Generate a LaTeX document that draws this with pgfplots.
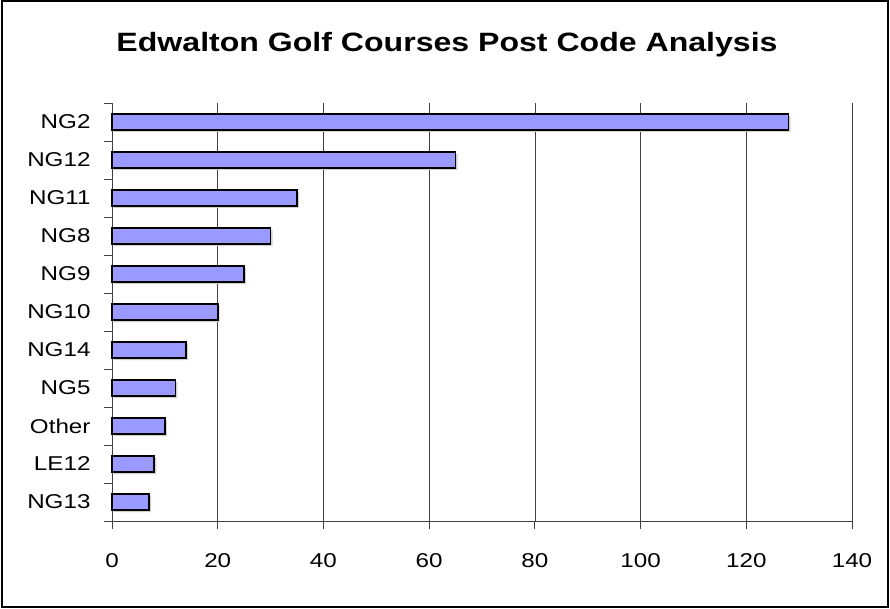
\documentclass[border=0pt]{standalone}
\usepackage{pgfplots}
\pgfplotsset{compat=1.18}
\usepackage{fontspec}
\setmainfont[FakeStretch=1.21]{Liberation Sans}
\definecolor{barfill}{HTML}{9999FF}
\begin{document}
\begin{tikzpicture}[x=1pt,y=1pt]
\useasboundingbox (0,0) rectangle (890,608);
\draw[line width=2pt] (1.5,1.5) rectangle (887.5,606.5);
\node[font=\fontsize{26.5}{30}\selectfont\bfseries, anchor=base, inner sep=0pt] at (447,556) {Edwalton Golf Courses Post Code Analysis};
\begin{axis}[
  at={(112pt,87pt)}, anchor=south west,
  scale only axis, width=740pt, height=418pt,
  xmin=0, xmax=140, ymin=-0.5, ymax=10.5,
  xtick={0,20,...,140},
  ytick={-0.5,0.5,...,10.5},
  yticklabels={NG13,LE12,Other,NG5,NG14,NG10,NG9,NG8,NG11,NG12,NG2,{}},
  yticklabel style={yshift=19pt, xshift=-10pt},
  xticklabel style={yshift=-21pt},
  ticklabel style={font=\fontsize{20}{24}\selectfont},
  /pgf/number format/assume math mode=true,
  xmajorgrids,
  major grid style={black!75, line width=0.7pt},
  axis x line*=bottom, axis y line*=left,
  axis line style={black!75, line width=0.9pt},
  tick align=outside, major tick length=8pt,
  tick style={black!75, line width=0.9pt},
  clip=false,
]
\addplot[xbar, fill=black!18, draw=none, bar width=16pt, xshift=2pt, yshift=-2pt]
  coordinates {(7,0) (8,1) (10,2) (12,3) (14,4) (20,5) (25,6) (30,7) (35,8) (65,9) (128,10)};
\addplot[xbar, fill=barfill, draw=black, line width=1.6pt, bar width=16pt]
  coordinates {(7,0) (8,1) (10,2) (12,3) (14,4) (20,5) (25,6) (30,7) (35,8) (65,9) (128,10)};
\end{axis}
\end{tikzpicture}
\end{document}
